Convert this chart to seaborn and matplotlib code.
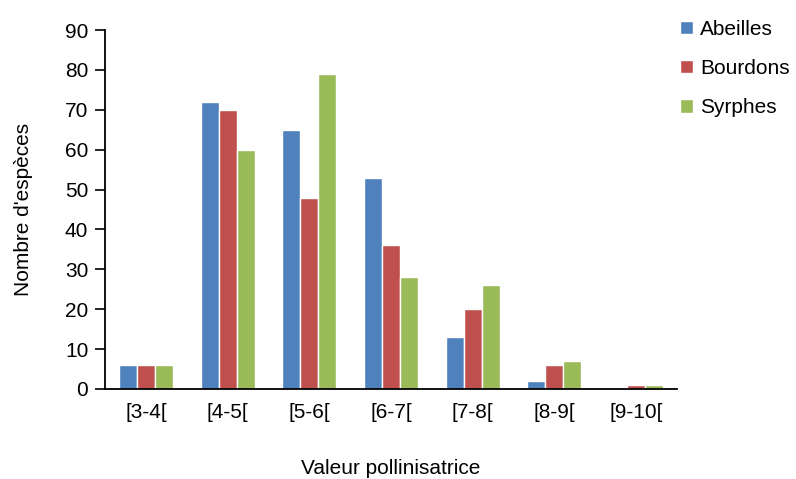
import matplotlib
matplotlib.use("Agg")
import matplotlib.pyplot as plt
import pandas as pd
import seaborn as sns

categories = ["[3-4[", "[4-5[", "[5-6[", "[6-7[", "[7-8[", "[8-9[", "[9-10["]
abeilles = [6, 72, 65, 53, 13, 2, 0]
bourdons = [6, 70, 48, 36, 20, 6, 1]
syrphes = [6, 60, 79, 28, 26, 7, 1]
series_names = ["Abeilles", "Bourdons", "Syrphes"]
colors = ["#4F81BD", "#C0504D", "#9BBB59"]

df = pd.DataFrame({
    "cat": categories * 3,
    "val": abeilles + bourdons + syrphes,
    "serie": [s for s in series_names for _ in categories],
})

sns.set_style("white")
plt.rcParams["font.family"] = ["Liberation Sans", "DejaVu Sans"]
plt.rcParams["text.color"] = "black"
plt.rcParams["axes.labelcolor"] = "black"
plt.rcParams["xtick.color"] = "black"
plt.rcParams["ytick.color"] = "black"

fs = 15

fig = plt.figure(figsize=(7.96, 4.79), dpi=100)
ax = fig.add_axes([105 / 796, 1 - 389 / 479, (677 - 105) / 796, (389 - 30) / 479])

sns.barplot(data=df, x="cat", y="val", hue="serie", palette=colors,
            width=0.66, saturation=1, ax=ax, legend=True)

ax.set_ylim(0, 90)
ax.set_yticks(range(0, 91, 10))
ax.set_xlim(-0.5, len(categories) - 0.5)
ax.tick_params(axis="y", direction="out", length=7, width=1.2, left=True, labelsize=fs, pad=5)
ax.tick_params(axis="x", length=0, labelsize=fs, pad=10)
for side in ["top", "right"]:
    ax.spines[side].set_visible(False)
for side in ["left", "bottom"]:
    ax.spines[side].set_color("black")
    ax.spines[side].set_linewidth(1.3)

# the reference clips this label at the bottom edge; keep it just inside
ax.set_xlabel("Valeur pollinisatrice", fontsize=fs, labelpad=27)
ax.set_ylabel("Nombre d'espèces", fontsize=fs, labelpad=23)

handles, labels = ax.get_legend_handles_labels()
ax.legend_.remove()
fig.legend(handles, labels, loc="upper left", bbox_to_anchor=(680 / 796, 1 - 20 / 479),
           frameon=False, fontsize=fs, handlelength=0.6, handleheight=0.6,
           handletextpad=0.35, labelspacing=0.97, borderaxespad=0, borderpad=0)

fig.savefig("out.png", dpi=100)
